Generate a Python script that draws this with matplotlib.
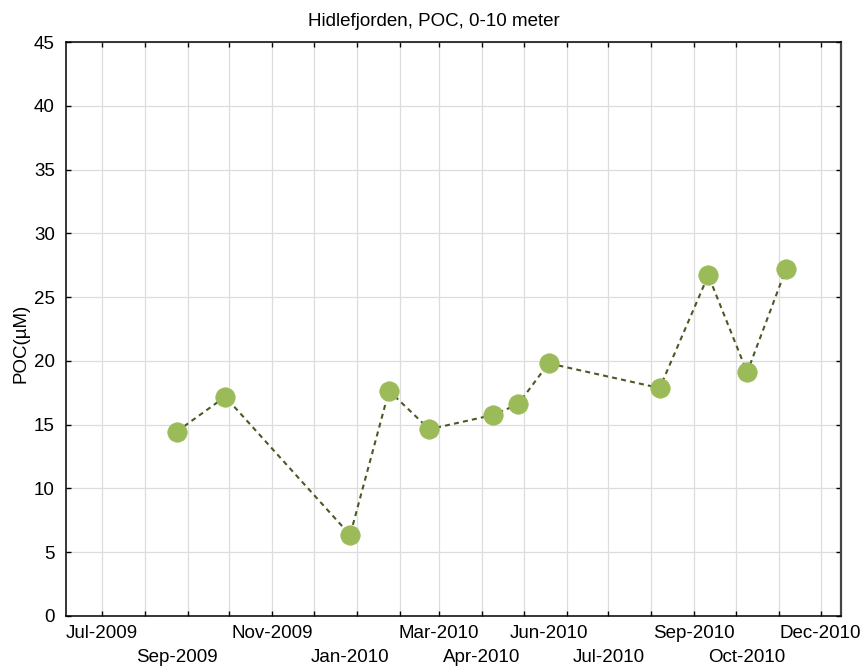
import matplotlib
matplotlib.use("Agg")
import matplotlib.pyplot as plt
import matplotlib.dates as mdates
from datetime import datetime, timedelta

plt.rcParams['font.family'] = ['Liberation Sans', 'DejaVu Sans']

# ---- data ----
sample_dates = ["2009-08-24", "2009-09-28", "2009-12-27", "2010-01-24", "2010-02-22",
                "2010-04-09", "2010-04-27", "2010-05-19", "2010-08-07", "2010-09-11",
                "2010-10-09", "2010-11-06"]
poc_values = [14.45, 17.19, 6.35, 17.66, 14.64, 15.76, 16.60, 19.81, 17.87, 26.71, 19.10, 27.20]

tick_label_texts = ["Jul-2009", "Sep-2009", "Nov-2009", "Jan-2010", "Mar-2010", "Apr-2010",
                    "Jun-2010", "Jul-2010", "Sep-2010", "Oct-2010", "Dec-2010"]
tick_label_dates = ["2009-07-01", "2009-08-24", "2009-11-01", "2009-12-27", "2010-03-01",
                    "2010-04-01", "2010-05-19", "2010-07-01", "2010-09-01", "2010-10-09",
                    "2010-12-01"]
y_ticks = [0, 5, 10, 15, 20, 25, 30, 35, 40, 45]

title = "Hidlefjorden, POC, 0-10 meter"
ylabel = "POC(µM)"

# ---- figure ----
W, H = 861, 668
fig = plt.figure(figsize=(W / 100, H / 100), dpi=100)
ax = fig.add_axes([66 / W, 1 - 616 / H, (840.7 - 66) / W, (616 - 42) / H])

x = [datetime.strptime(d, "%Y-%m-%d") for d in sample_dates]
ax.plot(x, poc_values, linestyle=(0, (2.4, 2.0)), color="#4A5A25", linewidth=1.5, zorder=3)
ax.plot(x, poc_values, linestyle="none", marker="o", markersize=14,
        markerfacecolor="#9BBB59", markeredgecolor="#9BBB59", markeredgewidth=0.5, zorder=4)

start = datetime(2009, 7, 1)
ax.set_xlim(mdates.date2num(start - timedelta(days=25.7)),
            mdates.date2num(start + timedelta(days=532.4)))
ax.set_ylim(0, 45)

# major ticks: every month start, unlabeled, with grid
ax.xaxis.remove_overlapping_locs = False
ax.xaxis.set_major_locator(mdates.MonthLocator())
ax.xaxis.set_major_formatter(plt.NullFormatter())
# labels placed as minor ticks, staggered in two rows
lab_pos = [mdates.date2num(datetime.strptime(d, "%Y-%m-%d")) for d in tick_label_dates]
ax.set_xticks(lab_pos, tick_label_texts, minor=True)
ax.tick_params(axis='x', which='minor', length=0, pad=6.5, labelsize=13.5)
for i, t in enumerate(ax.xaxis.get_minor_ticks()):
    if i % 2 == 1:
        t.set_pad(24.0)

ax.set_yticks(y_ticks)
ax.tick_params(axis='y', which='major', labelsize=13.5, pad=8)
ax.tick_params(which='major', direction='in', length=3.5, width=1.0,
               top=True, right=True, color='black')

ax.grid(True, which='major', color="#dddddd", linewidth=0.9)
ax.set_axisbelow(True)
for s in ax.spines.values():
    s.set_linewidth(1.1)
    s.set_color("black")
ax.spines['right'].set_color("#444444")
ax.spines['right'].set_linewidth(1.6)

fig.text(434 / W, 1 - 26 / H, title, ha='center', va='baseline', fontsize=13.5)
fig.text(21 / W, 1 - 343.5 / H, ylabel, ha='center', va='center', rotation=90, fontsize=13.5)

fig.savefig("out.png", dpi=100)
